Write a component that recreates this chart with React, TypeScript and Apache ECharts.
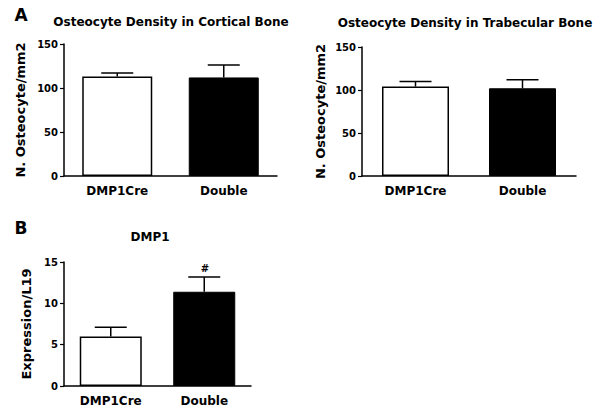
import React, { useEffect, useRef } from "react";
import * as echarts from "echarts";

const categories = ["DMP1Cre", "Double"];
const corticalMean = [113, 112];
const corticalUpper = [117, 126];
const trabecularMean = [104, 102];
const trabecularUpper = [110, 112];
const dmp1Mean = [6.0, 11.4];
const dmp1Upper = [7.1, 13.2];
const titles = ["Osteocyte Density in Cortical Bone", "Osteocyte Density in Trabecular Bone", "DMP1"];
const yNames = ["N. Osteocyte/mm2", "N. Osteocyte/mm2", "Expression/L19"];

const FONT = "DejaVu Sans, Liberation Sans, Arial, sans-serif";

export default function App() {
  const ref = useRef<HTMLDivElement>(null);
  useEffect(() => {
    if (!ref.current) return;
    document.body.style.margin = "0";
    const chart = echarts.init(ref.current, null, { renderer: "svg" });
    const grids = [
      { left: 64, top: 44, width: 213, height: 132 },
      { left: 362, top: 47, width: 214, height: 129 },
      { left: 64, top: 262, width: 187, height: 124 },
    ];
    const maxes = [150, 150, 15];
    const intervals = [50, 50, 5];
    const nameGaps = [37, 35, 31];
    const means = [corticalMean, trabecularMean, dmp1Mean];
    const uppers = [corticalUpper, trabecularUpper, dmp1Upper];
    const barWidths = [70, 67, 62];

    const xAxis = grids.map((_, i) => ({
      type: "category",
      gridIndex: i,
      data: categories,
      axisLine: { lineStyle: { color: "#000", width: 1.5 } },
      axisTick: { alignWithLabel: true, length: 4, lineStyle: { color: "#000", width: 1.2 } },
      axisLabel: { color: "#000", fontWeight: "bold", fontSize: 12, fontFamily: FONT, margin: 9 },
    }));
    const yAxis = grids.map((_, i) => ({
      type: "value",
      gridIndex: i,
      min: 0,
      max: maxes[i],
      interval: intervals[i],
      name: yNames[i],
      nameLocation: "middle",
      nameGap: nameGaps[i],
      nameTextStyle: { color: "#000", fontWeight: "bold", fontSize: 13, fontFamily: FONT },
      axisLine: { show: true, lineStyle: { color: "#000", width: 1.5 } },
      axisTick: { show: true, length: 4, lineStyle: { color: "#000", width: 1.2 } },
      axisLabel: { color: "#000", fontWeight: "bold", fontSize: 10, fontFamily: FONT, margin: 6 },
      splitLine: { show: false },
    }));
    const series: any[] = [];
    grids.forEach((_, i) => {
      series.push({
        type: "bar",
        xAxisIndex: i,
        yAxisIndex: i,
        barWidth: barWidths[i],
        data: means[i].map((v, j) => ({
          value: v,
          itemStyle:
            j === 0
              ? { color: "#fff", borderColor: "#000", borderWidth: 1.5 }
              : { color: "#000", borderColor: "#000", borderWidth: 1 },
        })),
      });
      series.push({
        type: "custom",
        xAxisIndex: i,
        yAxisIndex: i,
        z: 5,
        data: means[i].map((v, j) => [j, v, uppers[i][j]]),
        renderItem: (params: any, api: any) => {
          const idx = api.value(0);
          const p0 = api.coord([idx, api.value(1)]);
          const p1 = api.coord([idx, api.value(2)]);
          const half = 16;
          const style = { stroke: "#000", lineWidth: 1.5 };
          return {
            type: "group",
            children: [
              { type: "line", shape: { x1: p0[0], y1: p0[1], x2: p1[0], y2: p1[1] }, style },
              { type: "line", shape: { x1: p1[0] - half, y1: p1[1], x2: p1[0] + half, y2: p1[1] }, style },
            ],
          };
        },
      });
    });

    const textStyle = (text: string, size: number) => ({
      text,
      fill: "#000",
      font: `bold ${size}px ${FONT}`,
      align: "center",
      verticalAlign: "middle",
    });

    chart.setOption({
      animation: false,
      grid: grids.map((g) => ({ ...g, containLabel: false })),
      xAxis,
      yAxis,
      series,
      graphic: [
        { type: "text", x: 21, y: 15, style: textStyle("A", 17) },
        { type: "text", x: 21, y: 228, style: textStyle("B", 17) },
        { type: "text", x: 171, y: 22, style: textStyle(titles[0], 12) },
        { type: "text", x: 465, y: 23, style: textStyle(titles[1], 12) },
        { type: "text", x: 150, y: 237, style: textStyle(titles[2], 12) },
        { type: "text", x: 205, y: 268, style: textStyle("#", 10) },
      ],
    });
    return () => chart.dispose();
  }, []);
  return <div ref={ref} style={{ width: 600, height: 411, background: "#fff" }} />;
}
